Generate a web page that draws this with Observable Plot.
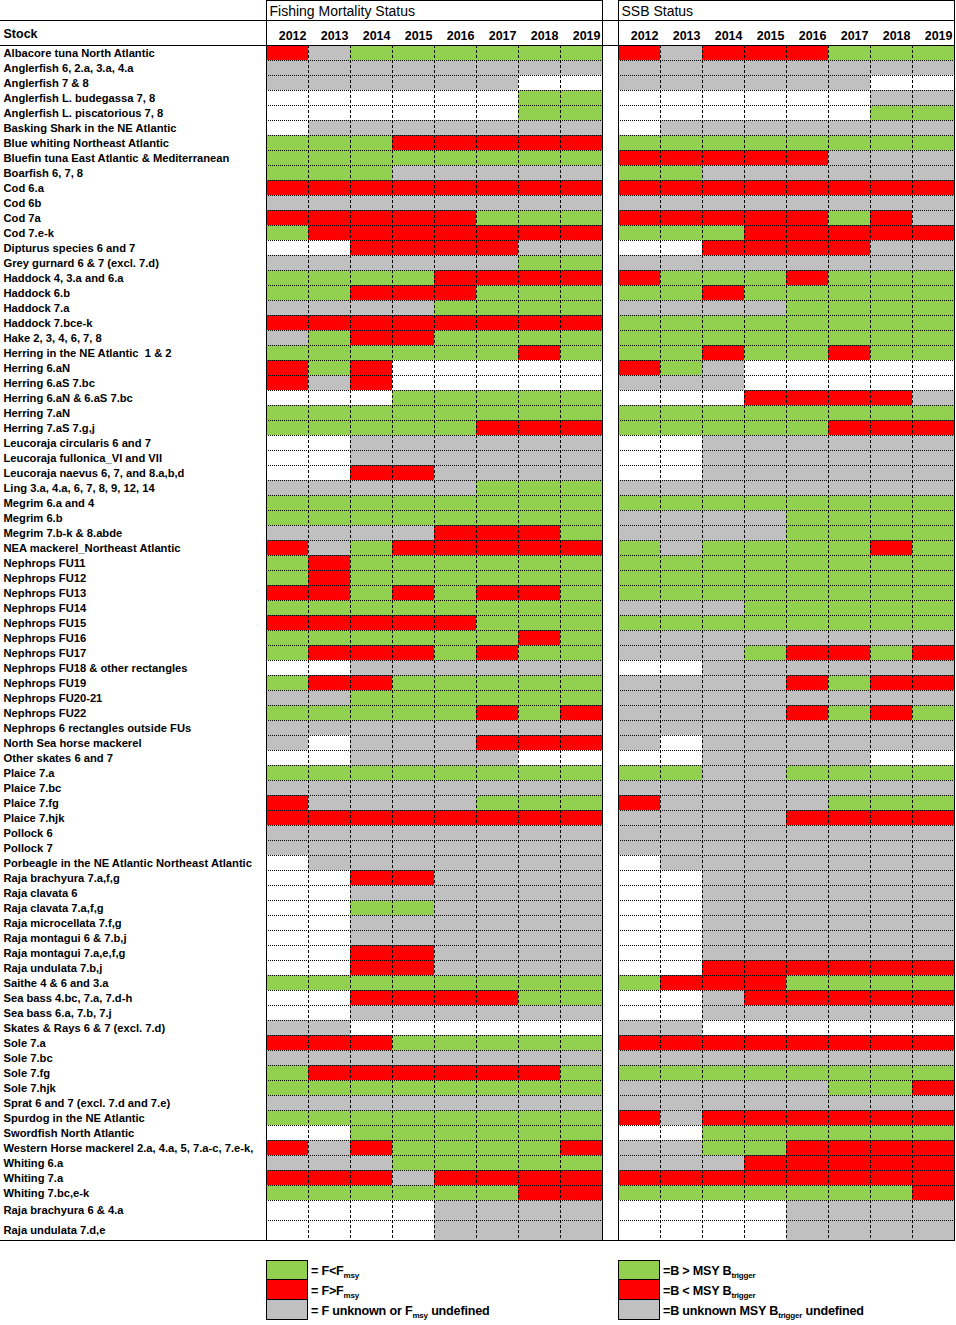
<!DOCTYPE html>
<html>
<head>
<meta charset="utf-8">
<script src="https://cdn.jsdelivr.net/npm/d3@7"></script>
<script src="https://cdn.jsdelivr.net/npm/@observablehq/plot@0.6"></script>
<style>
  body { margin: 0; background: #fff; font-family: "Liberation Sans", Arial, sans-serif; }
  #legend { position: relative; width: 956px; height: 83px; }
  .lg { position: absolute; top: 18px; }
  .row { display: flex; align-items: center; height: 20px; }
  .sw { width: 42px; height: 21px; box-sizing: border-box; border: 1px solid #000; margin-top: -1px; flex: none; }
  .row:first-child .sw { margin-top: 0; }
  .lt { margin-left: 3px; padding-top: 4px; font-size: 12.6px; font-weight: bold; color: #000; white-space: nowrap; letter-spacing: -0.2px; }
  .lt sub { font-size: 8px; vertical-align: -3px; }
</style>
</head>
<body>
<div id="chart"></div>
<div id="legend"></div>
<script>
// ---------------- data ----------------
const years = ["2012", "2013", "2014", "2015", "2016", "2017", "2018", "2019"];
const panels = ["F", "S"];
const panelTitles = ["Fishing Mortality Status", "SSB Status"];

const stocks = [
  "Albacore tuna North Atlantic",
  "Anglerfish 6, 2.a, 3.a, 4.a",
  "Anglerfish 7 & 8",
  "Anglerfish L. budegassa 7, 8",
  "Anglerfish L. piscatorious 7, 8",
  "Basking Shark in the NE Atlantic",
  "Blue whiting Northeast Atlantic",
  "Bluefin tuna East Atlantic & Mediterranean",
  "Boarfish 6, 7, 8",
  "Cod 6.a",
  "Cod 6b",
  "Cod 7a",
  "Cod 7.e-k",
  "Dipturus species 6 and 7",
  "Grey gurnard 6 & 7 (excl. 7.d)",
  "Haddock 4, 3.a and 6.a",
  "Haddock 6.b",
  "Haddock 7.a",
  "Haddock 7.bce-k",
  "Hake 2, 3, 4, 6, 7, 8",
  "Herring in the NE Atlantic  1 & 2",
  "Herring 6.aN",
  "Herring 6.aS 7.bc",
  "Herring 6.aN & 6.aS 7.bc",
  "Herring 7.aN",
  "Herring 7.aS 7.g,j",
  "Leucoraja circularis 6 and 7",
  "Leucoraja fullonica_VI and VII",
  "Leucoraja naevus 6, 7, and 8.a,b,d",
  "Ling 3.a, 4.a, 6, 7, 8, 9, 12, 14",
  "Megrim 6.a and 4",
  "Megrim 6.b",
  "Megrim 7.b-k & 8.abde",
  "NEA mackerel_Northeast Atlantic",
  "Nephrops FU11",
  "Nephrops FU12",
  "Nephrops FU13",
  "Nephrops FU14",
  "Nephrops FU15",
  "Nephrops FU16",
  "Nephrops FU17",
  "Nephrops FU18 & other rectangles",
  "Nephrops FU19",
  "Nephrops FU20-21",
  "Nephrops FU22",
  "Nephrops 6 rectangles outside FUs",
  "North Sea horse mackerel",
  "Other skates 6 and 7",
  "Plaice 7.a",
  "Plaice 7.bc",
  "Plaice 7.fg",
  "Plaice 7.hjk",
  "Pollock 6",
  "Pollock 7",
  "Porbeagle in the NE Atlantic Northeast Atlantic",
  "Raja brachyura 7.a,f,g",
  "Raja clavata 6",
  "Raja clavata 7.a,f,g",
  "Raja microcellata 7.f,g",
  "Raja montagui 6 & 7.b,j",
  "Raja montagui 7.a,e,f,g",
  "Raja undulata 7.b,j",
  "Saithe 4 & 6 and 3.a",
  "Sea bass 4.bc, 7.a, 7.d-h",
  "Sea bass 6.a, 7.b, 7.j",
  "Skates & Rays 6 & 7 (excl. 7.d)",
  "Sole 7.a",
  "Sole 7.bc",
  "Sole 7.fg",
  "Sole 7.hjk",
  "Sprat 6 and 7 (excl. 7.d and 7.e)",
  "Spurdog in the NE Atlantic",
  "Swordfish North Atlantic",
  "Western Horse mackerel 2.a, 4.a, 5, 7.a-c, 7.e-k,",
  "Whiting 6.a",
  "Whiting 7.a",
  "Whiting 7.bc,e-k",
  "Raja brachyura 6 & 4.a",
  "Raja undulata 7.d,e"
];

// G = green, R = red, X = grey (unknown/undefined), - = blank
const fStatus = [
  "RXGGGGGG","XXXXXXXX","XXXXXX--","------GG","------GG","-XXXXXXX","GGGRRRRR","GGGGGGGG",
  "GGGXXXXX","RRRRRRRR","XXXXXXXX","RRRRRGGG","GRRRRRRR","--RRRRXX","XXXXXXGG","GGGGRRRR",
  "GGRRRGGG","XXXXGGGG","RRRRRRRR","XGRRGGGG","GGGGGGRG","RGR-----","RXR-----","---GGGGG",
  "GGGGGGGG","GGGGGRRR","--XXXXXX","--XXXXXX","--RRXXXX","XXXXXGGG","GGGGGGGG","GGGGGGGG",
  "XXXXRRRG","RXGRRRRR","GRGGGGGG","GRGGGGGG","RRGRGRRG","GGGGGGGG","RRRRRGGG","GGGGGGRG",
  "GRRRGRGG","--XXXXXX","GRRGGGGG","XXGGGGGG","GGGGGRGR","XXXXXXXX","X-XXXRRR","--XXXX--",
  "GGGGGGGG","XXXXXXXX","RXXXXGGG","RRRRRRRR","XXXXXXXX","XXXXXXXX","-XXXXXXX","--RRXXXX",
  "--XXXXXX","--GGXXXX","--XXXXXX","--XXXXXX","--RRXXXX","--RRXXXX","GGGGGGGG","--RRRRGG",
  "--XXXXXX","XX------","RRRGGGGG","XXXXXXXX","GRRRRRRG","GGGGGGGG","XXXXXXXX","GGGGGGGG",
  "--GGGGGG","RXRGGGGR","XXXGGGGG","RRRXRRRR","GGGGGGRR","----XXXX","----XXXX"
];

const ssbStatus = [
  "RXRRRGGG","XXXXXXXX","XXXXXX--","------XX","------GG","-XXXXXXX","GGGGGGGG","RRRRRXXX",
  "GGXXXXXX","RRRRRRRR","XXXXXXXX","RRRRRGRX","GGGRRRRR","--RRRRXX","XXXXXXXX","RGGGRGGG",
  "GGRGGGGG","XXXXGGGG","GGGGGGGG","GGGGGGGG","GGRGGRGG","RGX-----","XXX-----","---RRRRX",
  "GGGGGGGG","GGGGGRRR","--XXXXXX","--XXXXXX","--XXXXXX","XXXXXXXX","GGGGGGGG","XXXXGGGG",
  "XXXXGGGG","GXGGGGRG","GGGGGGGG","GGGGGGGG","GGGGGGGG","XXXGGGGG","GGGGGGGG","XXXXXXXX",
  "XXXGRRGR","--XXXXXX","XXXXRGRR","XXXXXXXX","XXXXRGRG","XXXXXXXX","X-XXXXXX","--XXXX--",
  "GGXXGGGG","XXXXXXXX","RXXXXGGG","XXXXRRRR","XXXXXXXX","XXXXXXXX","-XXXXXXX","--XXXXXX",
  "--XXXXXX","--XXXXXX","--XXXXXX","--XXXXXX","--XXXXXX","--RRRRRR","GRRRGGGG","--XRRRRR",
  "--XXXXXX","XX------","RRRRRRRR","XXXXXXXX","GGGGGGGG","XXXXXGGR","XXXXXXXX","RXRRRRRR",
  "--GGGGGG","XXGGRRRR","XXXRRRRR","RRRRRRRR","GGGGGGGR","----XXXX","----XXXX"
];

const statusCodes = ["G", "R", "X"];
const statusColors = ["#92D050", "#FF0000", "#C0C0C0"];

// ---------------- layout ----------------
const W = 956, H = 1242;
const mLeft = 266, mRight = 2, mTop = 45, mBottom = 2;
const colW = 42, gapW = 16;
const font = '"Liberation Sans", Arial, sans-serif';

// the last two rows of the table are a little taller
const rowWeight = (i) => (i >= stocks.length - 2 ? 20 / 15 : 1);
let acc = 0;
const rows = stocks.map((stock, i) => {
  const r = {stock, panel: "F", y1: acc, y2: acc + rowWeight(i)};
  acc = r.y2;
  return r;
});
const total = acc;

const cells = [];
rows.forEach((r, i) => {
  panels.forEach((p) => {
    const codes = p === "F" ? fStatus[i] : ssbStatus[i];
    years.forEach((yr, j) => {
      const c = codes[j];
      if (c !== "-") cells.push({panel: p, year: yr, y1: r.y1, y2: r.y2, code: c});
    });
  });
});

const innerBounds = rows.slice(1).map((r) => r.y1);

const chart = Plot.plot({
  width: W,
  height: H,
  marginLeft: mLeft,
  marginRight: mRight,
  marginTop: mTop,
  marginBottom: mBottom,
  style: {fontFamily: font, fontSize: "11.2px", color: "#000", background: "#fff"},
  fx: {domain: panels, paddingInner: gapW / (colW * years.length + gapW), paddingOuter: 0, round: false, axis: null, label: null},
  x: {domain: years, padding: 0, round: false, label: null},
  y: {domain: [0, total], reverse: true, axis: null},
  color: {domain: statusCodes, range: statusColors},
  marks: [
    // stock names
    Plot.text(rows, {
      fx: "panel", y: (d) => (d.y1 + d.y2) / 2, text: "stock",
      frameAnchor: "left", dx: -(mLeft - 3), textAnchor: "start", lineAnchor: "middle",
      fontWeight: "bold", letterSpacing: "-0.2px"
    }),
    // status cells
    Plot.barY(cells, {fx: "panel", x: "year", y1: "y1", y2: "y2", fill: "code", inset: 0}),
    // dotted row separators
    Plot.ruleY(innerBounds, {y: (d) => d, stroke: "#000", strokeWidth: 1, strokeDasharray: "1,1"}),
    // dashed column separators
    Plot.ruleX(years.slice(1), {x: (d) => d, dx: -colW / 2, stroke: "#000", strokeWidth: 1, strokeDasharray: "3,2"}),
    // outer boxes incl. header
    Plot.frame({insetTop: -mTop, stroke: "#000"}),
    // full-width horizontal lines (header separator, grid top, grid bottom)
    Plot.ruleY([{panel: "F", y: 0}, {panel: "F", y: total}], {fx: "panel", y: "y", insetLeft: -mLeft, insetRight: -gapW, stroke: "#000"}),
    Plot.ruleY([{panel: "F", y: 0}], {fx: "panel", y: "y", dy: -25, insetLeft: -mLeft, insetRight: -gapW, stroke: "#000"}),
    Plot.ruleY([{panel: "S", y: 0}, {panel: "S", y: total}], {fx: "panel", y: "y", stroke: "#000"}),
    Plot.ruleY([{panel: "S", y: 0}], {fx: "panel", y: "y", dy: -25, stroke: "#000"}),
    // year header
    Plot.axisX({anchor: "top", tickSize: 0, tickPadding: 6, textAnchor: "end", dx: colW / 2 - 2, fontWeight: "bold", fontSize: 12.5, tickFormat: (d) => d}),
    // panel titles
    Plot.text(panels.map((p, i) => ({panel: p, title: panelTitles[i]})), {
      fx: "panel", text: "title", frameAnchor: "top-left", dx: 3, dy: -34,
      textAnchor: "start", lineAnchor: "middle", fontSize: 14
    }),
    // "Stock" header
    Plot.text([{panel: "F", t: "Stock"}], {
      fx: "panel", text: "t", frameAnchor: "top-left", dx: -(mLeft - 3), dy: -12,
      textAnchor: "start", lineAnchor: "middle", fontWeight: "bold", fontSize: 12.5
    })
  ]
});
document.getElementById("chart").appendChild(chart);

// ---------------- legend ----------------
const legendF = [
  {code: "G", html: "= F&lt;F<sub>msy</sub>"},
  {code: "R", html: "= F&gt;F<sub>msy</sub>"},
  {code: "X", html: "= F unknown or F<sub>msy</sub> undefined"}
];
const legendB = [
  {code: "G", html: "=B &gt; MSY B<sub>trigger</sub>"},
  {code: "R", html: "=B &lt; MSY B<sub>trigger</sub>"},
  {code: "X", html: "=B unknown MSY B<sub>trigger</sub> undefined"}
];
const colorOf = (c) => statusColors[statusCodes.indexOf(c)];
function legendGroup(items, left) {
  const g = document.createElement("div");
  g.className = "lg";
  g.style.left = left + "px";
  items.forEach((it) => {
    const row = document.createElement("div");
    row.className = "row";
    row.innerHTML = `<div class="sw" style="background:${colorOf(it.code)}"></div><div class="lt">${it.html}</div>`;
    g.appendChild(row);
  });
  return g;
}
const leg = document.getElementById("legend");
leg.appendChild(legendGroup(legendF, mLeft));
leg.appendChild(legendGroup(legendB, mLeft + colW * years.length + gapW));
</script>
</body>
</html>
